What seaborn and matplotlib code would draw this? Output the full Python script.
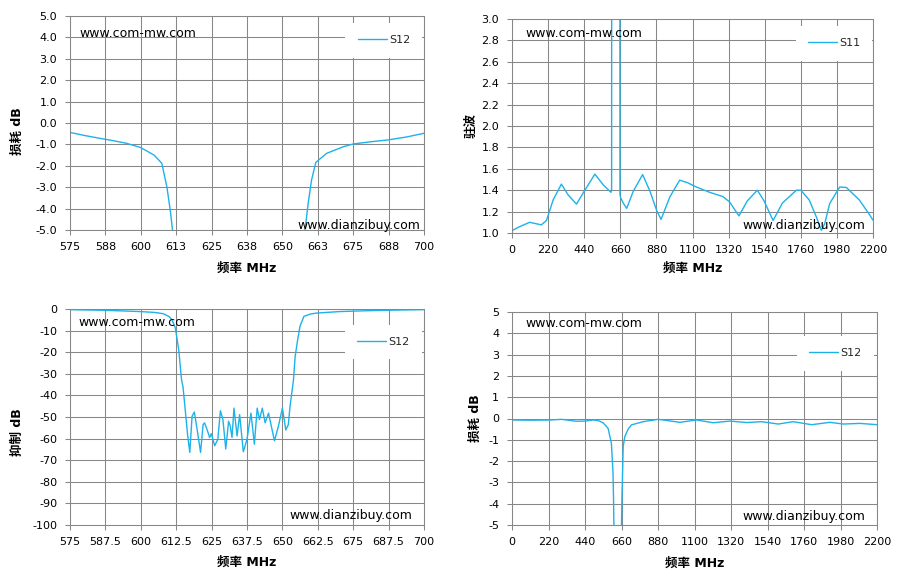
import numpy as np
import pandas as pd
import matplotlib
matplotlib.use("Agg")
import matplotlib.pyplot as plt
import seaborn as sns

# ---- data ----
# top-left: passband loss S12, 575-700 MHz
il_freq = [575, 580, 585.7, 590, 595, 600, 604.7, 607.4, 609.2, 610.4, 611.2, 612,
           657.5, 658.0, 659.1, 660.3, 661.8, 665.6, 671.5, 675, 681, 687.3, 694, 700]
il_db = [-0.44, -0.58, -0.72, -0.82, -0.95, -1.15, -1.5, -1.88, -2.98, -4.07, -5.0, -6.0,
         -6.0, -5.0, -3.75, -2.66, -1.84, -1.42, -1.11, -0.98, -0.88, -0.79, -0.65, -0.48]

# top-right: VSWR S11, 0-2200 MHz
vswr_freq = [0, 47, 108, 149, 179, 210, 251, 301, 342, 393, 444, 505, 556, 603, 607, 609,
             656, 658, 662, 678, 699, 739, 796, 841, 882, 908, 963, 1022, 1070, 1123, 1205,
             1286, 1326, 1383, 1434, 1495, 1536, 1591, 1648, 1733, 1760, 1811, 1855, 1885,
             1906, 1936, 1997, 2038, 2116, 2175, 2200]
vswr = [1.022, 1.06, 1.10, 1.086, 1.076, 1.117, 1.31, 1.457, 1.356, 1.27, 1.40, 1.55, 1.45,
        1.38, 1.40, 10.0, 10.0, 1.36, 1.33, 1.28, 1.23, 1.39, 1.546, 1.39, 1.21, 1.127, 1.34,
        1.494, 1.47, 1.43, 1.38, 1.34, 1.29, 1.16, 1.30, 1.40, 1.30, 1.117, 1.28, 1.40, 1.40,
        1.31, 1.15, 1.025, 1.088, 1.275, 1.43, 1.425, 1.31, 1.18, 1.12]

# bottom-left: rejection S12, 575-700 MHz
rej_freq = [575, 587.5, 600, 605, 608, 610, 611, 612.2, 613.4, 614.4, 614.9, 615.8, 616.5,
            617.3, 618.1, 618.9, 619.9, 621.1, 622, 622.5, 623.4, 624.3, 624.9, 626.1, 627.2,
            628.1, 629, 630, 631, 631.6, 632.2, 632.9, 634, 634.9, 636.2, 637.5, 638.9, 640.1,
            641.1, 641.9, 642.9, 643.9, 645.1, 647.2, 648.6, 650, 651.2, 652.1, 652.7, 653.9,
            654.5, 655.3, 656.2, 657.6, 660, 662, 670, 679.7, 690, 700]
rej_db = [-0.3, -0.6, -1.2, -1.6, -2.2, -3.5, -5, -8.8, -18.9, -33, -36, -48.2, -58,
          -66.4, -49.7, -47.7, -55.8, -66.4, -53.5, -52.7, -55.8, -59.5, -57.7, -63.3, -60.3,
          -47.1, -51.2, -64.8, -52, -54.2, -59.5, -45.9, -58.8, -48.9, -66.1, -60.3, -48.2, -62.6,
          -45.9, -51.2, -45.9, -52.7, -48.2, -61, -54.2, -45.9, -56, -53.5, -45, -33,
          -22, -15, -8, -3.4, -2.3, -1.9, -1.2, -0.8, -0.5, -0.3]

# bottom-right: wideband loss S12, 0-2200 MHz
wb_freq = [0, 113, 227, 300, 388, 440, 489, 520, 549, 579, 599, 609, 612, 615, 620,
           655, 660, 663, 666, 670, 680, 700, 720, 790, 881, 940, 1011, 1112, 1213, 1313,
           1414, 1504, 1605, 1695, 1806, 1916, 1997, 2097, 2200]
wb_db = [-0.07, -0.08, -0.07, -0.04, -0.13, -0.12, -0.07, -0.1, -0.2, -0.46, -1.16, -2.57,
         -3.8, -5.5, -30, -30, -5.0, -3.6, -2.73, -1.33, -0.85, -0.5, -0.3, -0.15, -0.04, -0.1,
         -0.18, -0.07, -0.2, -0.12, -0.19, -0.15, -0.26, -0.15, -0.29, -0.18, -0.26, -0.23, -0.29]

narrow_ticks = [575, 587.5, 600, 612.5, 625, 637.5, 650, 662.5, 675, 687.5, 700]
narrow_labels_rounded = ["575", "588", "600", "613", "625", "638", "650", "663", "675", "688", "700"]
narrow_labels = ["575", "587.5", "600", "612.5", "625", "637.5", "650", "662.5", "675", "687.5", "700"]
wide_ticks = list(range(0, 2201, 220))

LINE = "#1db2ea"
GRID = "#878787"

sns.set_theme(style="white")
plt.rcParams["font.family"] = ["DejaVu Sans", "Noto Sans CJK SC"]
plt.rcParams["axes.unicode_minus"] = False

fig = plt.figure(figsize=(9.01, 5.77), dpi=100)
W, H = 901, 577


def make_axes(left, right, top, bottom):
    return fig.add_axes([left / W, (H - bottom) / H, (right - left) / W, (bottom - top) / H])


def style(ax, xticks, xlabels, yticks, ylabels, xlim, ylim, xlab, ylab, xlab_y, ylab_xy,
          leg_label, leg_anchor, wm1, wm2):
    ax.set_xlim(*xlim)
    ax.set_ylim(*ylim)
    ax.set_xticks(xticks)
    ax.set_xticklabels(xlabels)
    ax.set_yticks(yticks)
    ax.set_yticklabels(ylabels)
    ax.grid(True, color=GRID, linewidth=0.75)
    for sp in ax.spines.values():
        sp.set_color(GRID)
        sp.set_linewidth(0.75)
    ax.tick_params(axis="both", direction="out", length=3.3, width=0.75, color=GRID,
                   labelsize=8, labelcolor="black", bottom=True, left=True)
    ax.tick_params(axis="y", pad=6)
    ax.tick_params(axis="x", pad=5)
    ax.set_xlabel(xlab, fontsize=9, fontweight="bold", color="black")
    ax.set_ylabel(ylab, fontsize=9, fontweight="bold", color="black")
    ax.xaxis.set_label_coords(0.5, xlab_y)
    ax.yaxis.set_label_coords(*ylab_xy)
    ax.legend([ax.lines[0]], [leg_label], loc="upper right", bbox_to_anchor=leg_anchor,
              borderaxespad=0, frameon=True, fancybox=False, framealpha=1,
              facecolor="white", edgecolor="none", fontsize=8, handlelength=2.6,
              borderpad=1.1, handletextpad=0.2)
    ax.text(wm1[0], wm1[1], "www.com-mw.com", transform=ax.transAxes, fontsize=9,
            ha="left", va="center", color="black")
    ax.text(wm2[0], wm2[1], "www.dianzibuy.com", transform=ax.transAxes, fontsize=9,
            ha="right", va="center", color="black")


# top-left
ax1 = make_axes(70, 424, 16, 230)
df1 = pd.DataFrame({"f": il_freq, "v": il_db})
sns.lineplot(data=df1, x="f", y="v", ax=ax1, color=LINE, linewidth=1, sort=False, estimator=None)
y1 = [5 - i for i in range(11)]
style(ax1, narrow_ticks, narrow_labels_rounded, y1, [f"{v:.1f}" for v in y1], (575, 700), (-5, 5),
      "频率 MHz", "损耗 dB", -0.15, (-0.13, 0.46), "S12", (0.995, 0.967),
      (0.028, 0.916), (0.99, 0.019))

# top-right
ax2 = make_axes(512, 873, 19, 233)
df2 = pd.DataFrame({"f": vswr_freq, "v": vswr})
sns.lineplot(data=df2, x="f", y="v", ax=ax2, color=LINE, linewidth=1, sort=False, estimator=None)
y2 = [round(1.0 + 0.2 * i, 1) for i in range(11)]
style(ax2, wide_ticks, [str(t) for t in wide_ticks], y2, [f"{v:.1f}" for v in y2], (0, 2200), (1.0, 3.0),
      "频率 MHz", "驻波", -0.135, (-0.094, 0.5), "S11", (0.998, 0.967),
      (0.036, 0.93), (0.978, 0.033))

# bottom-left
ax3 = make_axes(70, 424, 309, 525)
df3 = pd.DataFrame({"f": rej_freq, "v": rej_db})
sns.lineplot(data=df3, x="f", y="v", ax=ax3, color=LINE, linewidth=1, sort=False, estimator=None)
y3 = list(range(0, -101, -10))
style(ax3, narrow_ticks, narrow_labels, y3, [str(v) for v in y3], (575, 700), (-100, 0),
      "频率 MHz", "抑制 dB", -0.143, (-0.13, 0.428), "S12", (0.994, 0.926),
      (0.023, 0.937), (0.966, 0.042))

# bottom-right
ax4 = make_axes(512, 877, 312, 525)
df4 = pd.DataFrame({"f": wb_freq, "v": wb_db})
sns.lineplot(data=df4, x="f", y="v", ax=ax4, color=LINE, linewidth=1, sort=False, estimator=None)
y4 = list(range(5, -6, -1))
style(ax4, wide_ticks, [str(t) for t in wide_ticks], y4, [str(v) for v in y4], (0, 2200), (-5, 5),
      "频率 MHz", "损耗 dB", -0.15, (-0.082, 0.5), "S12", (0.992, 0.887),
      (0.036, 0.944), (0.967, 0.042))

fig.savefig("out.png", dpi=100, facecolor="white")
